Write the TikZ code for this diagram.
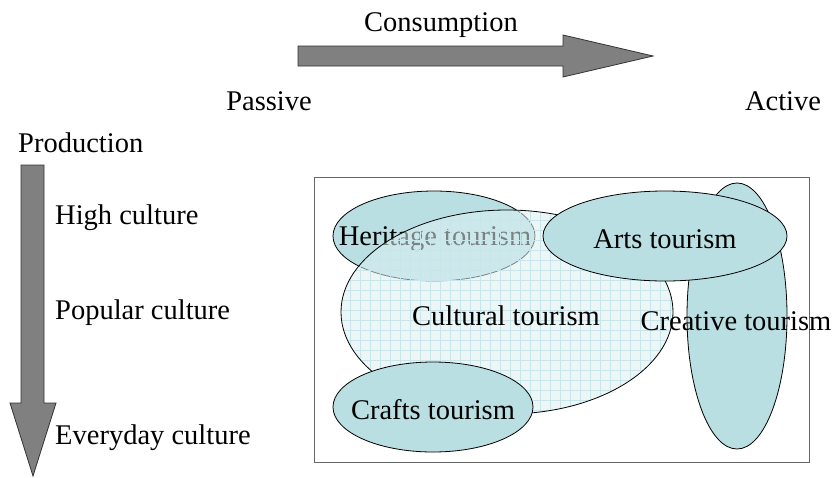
\documentclass[tikz,border=0pt]{standalone}
\usepackage{fontspec}
\setmainfont{Liberation Serif}
\usepackage{xcolor}
\definecolor{tealcolor}{RGB}{185, 223, 226}
\definecolor{palecolor}{RGB}{222, 240, 242}
\definecolor{gridcolor}{RGB}{200, 230, 233}
\definecolor{arrowcolor}{RGB}{128, 128, 128}
\colorlet{bordercolor}{white}

\begin{document}
\begin{tikzpicture}[x=1pt, y=-1pt, font=\fontsize{28.5}{34}\selectfont,
        blob/.style={fill=tealcolor, draw=black, line width=0.8pt},
        bigarrow/.style={fill=arrowcolor, draw=black!80, line width=0.8pt},
        label/.style={inner sep=0pt}]
        \useasboundingbox[fill=bordercolor] (0, 0) rectangle (834, 477);

        % Axes {{{
        \draw[bigarrow] (298, 46) -- (563, 46) -- (563, 35) -- (653, 56) -- (563, 77) -- (563, 66) -- (298, 66) -- cycle;
        \node[label] (consumption) at (441, 25) {Consumption};
        \node[label] (passive) at (269, 101) {Passive};
        \node[label] (active) at (783, 101) {Active};

        \draw[bigarrow] (21, 165) -- (44, 165) -- (44, 403) -- (56, 403) -- (33, 476) -- (10, 403) -- (21, 403) -- cycle;
        \node[label, anchor=west] (production) at (18, 143) {Production};
        \node[label, anchor=west] (high) at (55, 218) {High culture};
        \node[label, anchor=west] (popular) at (55, 313) {Popular culture};
        \node[label, anchor=west] (everyday) at (55, 438) {Everyday culture};
        % }}}

        % Tourism map {{{
        \draw[draw=black!60, line width=0.8pt] (314, 177) rectangle (809, 462);

        \fill[tealcolor] (434, 236) ellipse (101 and 45);
        \node[label] (heritage) at (435, 239) {Heritage tourism};
        \draw[line width=0.8pt] (434, 236) ellipse (101 and 45);

        \fill[palecolor, fill opacity=0.55] (507, 312) ellipse (166 and 102);
        \begin{scope}
                \clip (507, 312) ellipse (166 and 102);
                \foreach \gx in {340, 350, ..., 680}
                        \draw[gridcolor, line width=0.5pt] (\gx, 205) -- (\gx, 420);
                \foreach \gy in {210, 220, ..., 420}
                        \draw[gridcolor, line width=0.5pt] (335, \gy) -- (680, \gy);
        \end{scope}
        \draw[line width=0.8pt] (507, 312) ellipse (166 and 102);
        \node[label] (cultural) at (506, 316) {Cultural tourism};

        \filldraw[blob] (433, 407) ellipse (100 and 45);
        \node[label] (crafts) at (433, 410) {Crafts tourism};

        \filldraw[blob] (737, 316) ellipse (50 and 133);
        \filldraw[blob] (665, 236) ellipse (122 and 45);
        \node[label] (arts) at (665, 239) {Arts tourism};
        \node[label] (creative) at (736, 321) {Creative tourism};
        % }}}
\end{tikzpicture}
\end{document}
